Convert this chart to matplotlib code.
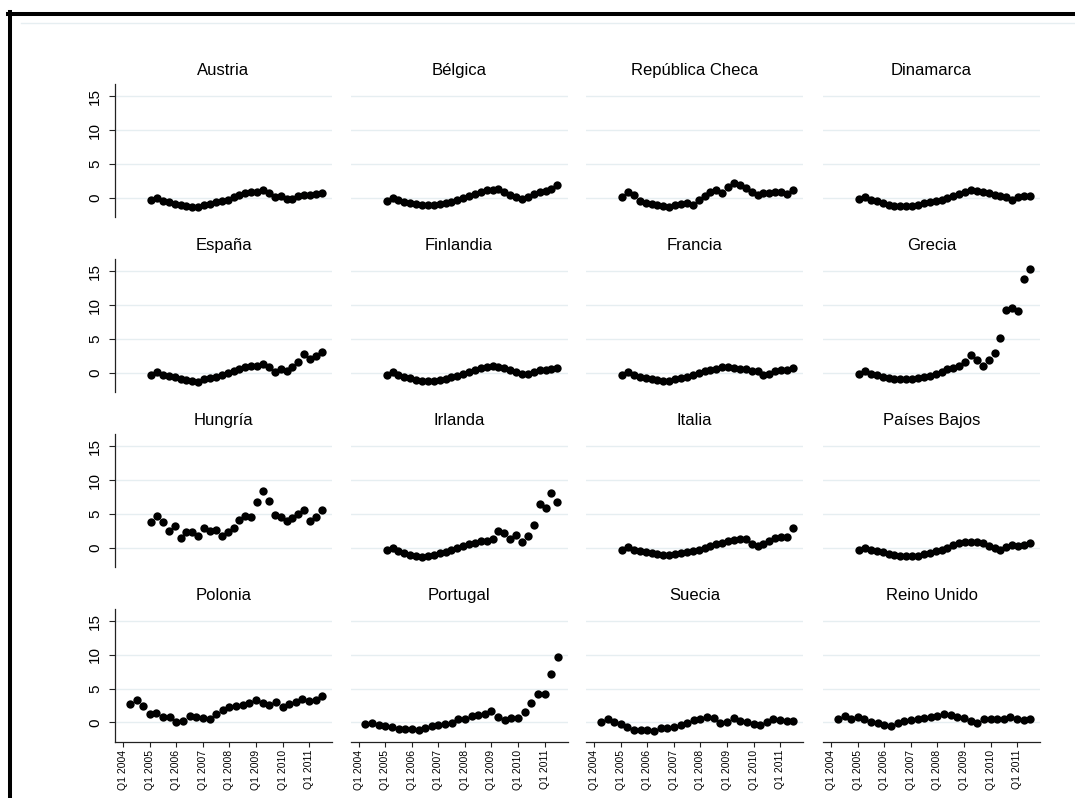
import numpy as np
import matplotlib
matplotlib.use("Agg")
import matplotlib.pyplot as plt
from matplotlib.lines import Line2D

plt.rcParams['font.family'] = ['Liberation Sans', 'DejaVu Sans']

countries = ["Austria", "Bélgica", "República Checa", "Dinamarca",
             "España", "Finlandia", "Francia", "Grecia",
             "Hungría", "Irlanda", "Italia", "Países Bajos",
             "Polonia", "Portugal", "Suecia", "Reino Unido"]

austria = [-0.35, 0.0, -0.45, -0.7, -0.9, -1.05, -1.2, -1.3, -1.3, -1.1, -0.9, -0.7, -0.5, -0.3, 0.05,
           0.4, 0.65, 0.85, 0.85, 1.2, 0.7, 0.1, 0.2, -0.15, -0.15, 0.2, 0.35, 0.35, 0.5, 0.65]
belgica = [-0.45, 0.0, -0.35, -0.6, -0.85, -1.0, -1.1, -1.15, -1.15, -1.0, -0.8, -0.6, -0.4, -0.1, 0.3,
           0.6, 0.9, 1.15, 1.15, 1.25, 0.85, 0.45, 0.15, -0.2, 0.05, 0.55, 0.85, 1.05, 1.3, 1.85]
rep_checa = [0.15, 0.9, 0.45, -0.5, -0.8, -0.95, -1.05, -1.2, -1.35, -1.15, -0.95, -0.85, -1.05, -0.3, 0.3,
             0.9, 1.1, 0.7, 1.6, 2.2, 1.85, 1.45, 0.8, 0.4, 0.7, 0.7, 0.8, 0.9, 0.5, 1.15]
dinamarca = [-0.25, 0.1, -0.3, -0.55, -0.8, -1.1, -1.25, -1.25, -1.25, -1.2, -1.05, -0.85, -0.7, -0.5, -0.3,
             0.0, 0.3, 0.55, 0.8, 1.1, 1.0, 0.9, 0.7, 0.4, 0.2, 0.1, -0.3, 0.05, 0.2, 0.25]
espana = [-0.4, 0.1, -0.35, -0.55, -0.7, -0.95, -1.1, -1.25, -1.4, -1.0, -0.8, -0.6, -0.4, -0.1, 0.2,
          0.55, 0.8, 1.05, 1.0, 1.25, 0.8, 0.15, 0.5, 0.3, 0.9, 1.6, 2.7, 2.0, 2.4, 3.1]
finlandia = [-0.3, 0.1, -0.35, -0.6, -0.8, -1.05, -1.25, -1.3, -1.3, -1.1, -0.9, -0.7, -0.45, -0.2, 0.15,
             0.45, 0.7, 0.85, 0.95, 0.85, 0.75, 0.4, 0.05, -0.25, -0.2, 0.15, 0.45, 0.35, 0.5, 0.75]
francia = [-0.35, 0.05, -0.35, -0.6, -0.8, -1.0, -1.15, -1.25, -1.2, -1.0, -0.75, -0.6, -0.35, -0.05, 0.25,
           0.45, 0.6, 0.8, 0.8, 0.65, 0.6, 0.6, 0.3, 0.2, -0.3, -0.2, 0.2, 0.35, 0.35, 0.75]
grecia = [-0.25, 0.2, -0.2, -0.4, -0.6, -0.8, -0.9, -0.95, -0.95, -0.9, -0.8, -0.6, -0.45, -0.25, 0.1,
          0.5, 0.75, 1.0, 1.6, 2.65, 1.8, 0.95, 1.9, 2.9, 5.2, 9.3, 9.5, 9.1, 13.8, 15.35]
hungria = [3.85, 4.6, 3.85, 2.5, 3.15, 1.45, 2.35, 2.35, 1.75, 2.9, 2.5, 2.6, 1.75, 2.25, 2.9,
           4.1, 4.7, 4.5, 6.75, 8.35, 6.95, 4.85, 4.5, 4.0, 4.3, 5.0, 5.5, 4.0, 4.5, 5.5]
irlanda = [-0.35, 0.0, -0.5, -0.8, -1.05, -1.25, -1.35, -1.3, -1.1, -0.85, -0.6, -0.35, -0.1, 0.2, 0.45,
           0.7, 0.9, 1.0, 1.2, 2.5, 2.15, 1.25, 1.8, 0.85, 1.7, 3.3, 6.4, 5.9, 8.1, 6.75]
italia = [-0.3, 0.05, -0.3, -0.5, -0.65, -0.8, -0.95, -1.05, -1.05, -1.0, -0.85, -0.7, -0.55, -0.35, -0.1,
          0.2, 0.45, 0.7, 0.95, 1.15, 1.3, 1.2, 0.5, 0.2, 0.5, 1.0, 1.35, 1.5, 1.6, 2.9]
paises_bajos = [-0.4, 0.0, -0.35, -0.55, -0.7, -0.95, -1.1, -1.2, -1.25, -1.3, -1.2, -1.0, -0.8, -0.55, -0.3,
                0.0, 0.4, 0.7, 0.85, 0.8, 0.85, 0.6, 0.2, 0.0, -0.3, 0.05, 0.3, 0.2, 0.4, 0.6]
polonia = [2.7, 3.3, 2.4, 1.3, 1.4, 0.8, 0.8, 0.0, 0.2, 1.0, 0.8, 0.7, 0.45, 1.3, 1.9,
           2.3, 2.5, 2.65, 2.9, 3.3, 2.9, 2.55, 3.0, 2.3, 2.7, 3.0, 3.5, 3.1, 3.3, 3.9]
portugal = [-0.3, -0.05, -0.4, -0.5, -0.75, -1.0, -1.0, -1.0, -1.1, -0.9, -0.55, -0.45, -0.25, -0.15, 0.5,
            0.55, 0.95, 1.1, 1.2, 1.7, 0.85, 0.35, 0.6, 0.7, 1.55, 2.95, 4.25, 4.15, 7.2, 9.65]
suecia = [0.0, 0.45, 0.0, -0.3, -0.65, -1.15, -1.15, -1.15, -1.25, -0.9, -0.8, -0.65, -0.4, -0.15, 0.35,
          0.45, 0.85, 0.6, -0.15, 0.0, 0.6, 0.2, 0.1, -0.3, -0.4, 0.0, 0.45, 0.35, 0.25, 0.25]
reino_unido = [0.5, 0.95, 0.55, 0.75, 0.5, 0.1, -0.15, -0.4, -0.5, -0.15, 0.2, 0.35, 0.5, 0.6, 0.85,
               0.95, 1.3, 1.1, 0.85, 0.6, 0.25, -0.05, 0.45, 0.5, 0.5, 0.45, 0.75, 0.45, 0.35, 0.5]

series = [austria, belgica, rep_checa, dinamarca,
          espana, finlandia, francia, grecia,
          hungria, irlanda, italia, paises_bajos,
          polonia, portugal, suecia, reino_unido]

# time positions (decimal years): the last row runs quarterly from Q2 2004,
# the other countries cover 2005-2011 with 30 observations
t_quarterly = 2004.25 + 0.25 * np.arange(30)
t_short = np.linspace(2005.05, 2011.48, 30)

year_ticks = list(range(2004, 2012))
year_labels = [f"Q1 {y}" for y in year_ticks]
y_ticks = [0, 5, 10, 15]

W, H = 1075, 798
fig = plt.figure(figsize=(W / 100, H / 100), dpi=100)
fig.patch.set_facecolor("white")

col_left = [115, 350.5, 586, 823]
row_top = [84.3, 259.2, 434.1, 609.0]
pw, ph = 217, 132.8
grid_col = "#e6eef1"

for idx, (name, vals) in enumerate(zip(countries, series)):
    r, c = divmod(idx, 4)
    ax = fig.add_axes([col_left[c] / W, 1 - (row_top[r] + ph) / H, pw / W, ph / H])
    ax.set_xlim(2003.687, 2011.864)
    ax.set_ylim(-2.87, 16.8)
    for g in y_ticks:
        ax.axhline(g, color=grid_col, lw=1.0, zorder=0)
    t = t_quarterly if r == 3 else t_short
    ax.plot(t, vals, "o", color="black", ms=6.0, mew=0, zorder=3)
    ax.set_title(name, fontsize=12, pad=6.5)

    for s in ["top", "right"]:
        ax.spines[s].set_visible(False)
    ax.spines["left"].set_visible(c == 0)
    ax.spines["bottom"].set_visible(r == 3)
    for s in ["left", "bottom"]:
        ax.spines[s].set_color("#222222")
        ax.spines[s].set_linewidth(0.9)

    ax.set_yticks(y_ticks)
    if c == 0:
        ax.set_yticklabels([str(v) for v in y_ticks], rotation=90, va="center", fontsize=11)
        ax.tick_params(axis="y", length=4.3, width=0.8, pad=5, color="#222222")
    else:
        ax.tick_params(axis="y", left=False, labelleft=False)

    ax.set_xticks(year_ticks)
    if r == 3:
        ax.set_xticklabels(year_labels, rotation=90, fontsize=7.5)
        ax.tick_params(axis="x", length=3.6, width=0.8, pad=2, color="#222222")
    else:
        ax.tick_params(axis="x", bottom=False, labelbottom=False)
    ax.set_facecolor("none")

# outer frame pieces
fig.add_artist(Line2D([8 / W, 1], [1 - 14 / H, 1 - 14 / H], color="black", lw=2.9,
                      transform=fig.transFigure))
fig.add_artist(Line2D([10.3 / W, 10.3 / W], [0, 1 - 12 / H], color="black", lw=2.9,
                      transform=fig.transFigure))
fig.add_artist(Line2D([21 / W, 1], [1 - 23 / H, 1 - 23 / H], color=grid_col, lw=1.0,
                      transform=fig.transFigure))

fig.savefig("out.png", dpi=100)
